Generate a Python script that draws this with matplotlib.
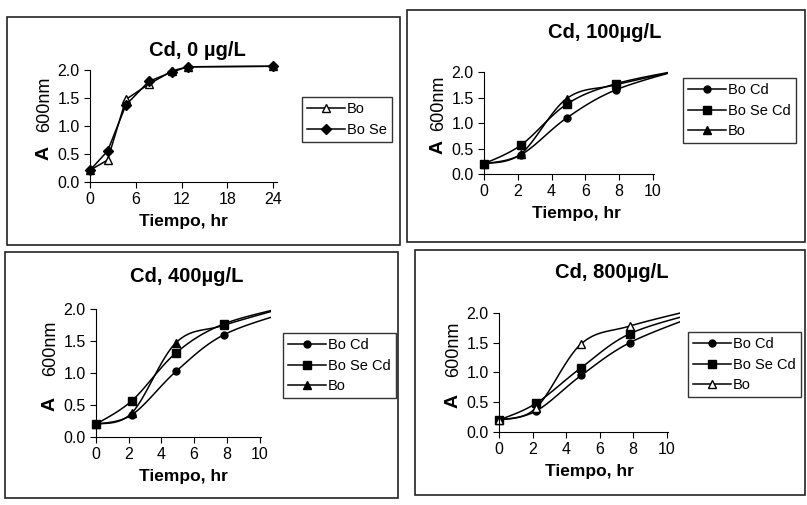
import numpy as np
import matplotlib
matplotlib.use("Agg")
import matplotlib.pyplot as plt
from matplotlib.patches import Rectangle
from matplotlib.ticker import FormatStrFormatter

plt.rcParams['font.family'] = ['Liberation Sans', 'DejaVu Sans']

# Cd 0 ug/L  (tiempo en hr)
t0 = [0, 2.3, 4.7, 7.7, 10.8, 12.8, 24]
bo_0 = [0.21, 0.39, 1.47, 1.74, 1.98, 2.05, 2.06]
bose_0 = [0.21, 0.55, 1.37, 1.79, 1.96, 2.05, 2.06]

# Cd 100 / 400 / 800 ug/L
t = [0, 2.2, 4.9, 7.8, 12]
bocd_100 = [0.2, 0.38, 1.1, 1.65, 2.08]
bosecd_100 = [0.2, 0.57, 1.37, 1.77, 2.06]
bo_100 = [0.2, 0.4, 1.48, 1.75, 2.06]

bocd_400 = [0.2, 0.35, 1.03, 1.6, 1.98]
bosecd_400 = [0.2, 0.57, 1.32, 1.77, 2.06]
bo_400 = [0.2, 0.38, 1.48, 1.75, 2.06]

bocd_800 = [0.2, 0.35, 0.95, 1.5, 1.98]
bosecd_800 = [0.2, 0.48, 1.08, 1.65, 2.02]
bo_800 = [0.2, 0.4, 1.48, 1.78, 2.08]

W, H = 807, 505
fig = plt.figure(figsize=(W / 100, H / 100), dpi=100)
fig.patch.set_facecolor('white')


def smooth(x, y, n=30):
    # suavizado tipo Excel (Catmull-Rom)
    p = np.column_stack([x, y]).astype(float)
    p = np.vstack([p[0], p, p[-1]])
    tt = np.linspace(0, 1, n)[:, None]
    segs = []
    for i in range(1, len(p) - 2):
        p0, p1, p2, p3 = p[i - 1], p[i], p[i + 1], p[i + 2]
        segs.append(0.5 * (2 * p1 + (-p0 + p2) * tt
                           + (2 * p0 - 5 * p1 + 4 * p2 - p3) * tt ** 2
                           + (-p0 + 3 * p1 - 3 * p2 + p3) * tt ** 3))
    c = np.vstack(segs)
    return c[:, 0], c[:, 1]


def box(l, t_, r, b):
    fig.patches.append(Rectangle((l / W, 1 - b / H), (r - l) / W, (b - t_) / H,
                                 transform=fig.transFigure, fill=False,
                                 ec='#222222', lw=1.2))


def make_axes(l, t_, r, b):
    return fig.add_axes([l / W, 1 - b / H, (r - l) / W, (b - t_) / H])


def style(ax, xmax, xticks, spine_x):
    ax.set_xlim(0, xmax)
    ax.set_ylim(0, 2.1)
    ax.spines['top'].set_visible(False)
    ax.spines['right'].set_visible(False)
    ax.spines['bottom'].set_bounds(0, spine_x)
    ax.spines['left'].set_bounds(0, 2.0)
    ax.set_xticks(xticks)
    ax.set_yticks([0, 0.5, 1.0, 1.5, 2.0])
    ax.yaxis.set_major_formatter(FormatStrFormatter('%.1f'))
    ax.tick_params(labelsize=11.5, length=4, direction='out')
    ax.set_xlabel('Tiempo, hr', fontsize=12.5, fontweight='bold', labelpad=5)
    ax.annotate('A', xy=(0, 0.25), xycoords='axes fraction', xytext=(-33, 0),
                textcoords='offset points', rotation=90, fontsize=14,
                fontweight='bold', ha='center', va='center')
    ax.annotate('600nm', xy=(0, 0.66), xycoords='axes fraction', xytext=(-33, 0),
                textcoords='offset points', rotation=90, fontsize=13,
                ha='center', va='center')


def legend(ax, l, t_):
    ax.legend(loc='upper left', bbox_to_anchor=(l / W, 1 - t_ / H),
              bbox_transform=fig.transFigure, fontsize=10.5,
              handlelength=2.6, frameon=True, fancybox=False,
              edgecolor='black', borderpad=0.35, labelspacing=0.45,
              handletextpad=0.15, borderaxespad=0)


# Panel 1: Cd, 0 ug/L
box(7, 17, 400, 245)
ax1 = make_axes(90, 64, 277, 182)
ax1.plot(t0, bo_0, color='black', lw=1.1, marker='^', ms=6, mfc='white',
         mec='black', label='Bo', clip_on=False)
ax1.plot(t0, bose_0, color='black', lw=1.1, marker='D', ms=5,
         label='Bo Se', clip_on=False)
style(ax1, 24.5, [0, 6, 12, 18, 24], 24.5)
legend(ax1, 302, 97)
fig.text(197 / W, 1 - 50 / H, 'Cd, 0 \u00b5g/L', ha='center', va='center',
         fontsize=14.5, fontweight='bold')

panels = [
    # (caja, ejes px, xmax, leyenda, titulo, pos titulo, series, triangulo abierto)
    ((407, 10, 805, 242), (484, 67, 668, 174), 10.9, (683, 78),
     'Cd, 100\u00b5g/L', (605, 32), (bocd_100, bosecd_100, bo_100), False),
    ((5, 252, 398, 498), (96, 303, 271, 437), 10.7, (283, 333),
     'Cd, 400\u00b5g/L', (187, 277), (bocd_400, bosecd_400, bo_400), False),
    ((415, 250, 805, 495), (499, 307, 680, 432), 10.8, (688, 332),
     'Cd, 800\u00b5g/L', (612, 273), (bocd_800, bosecd_800, bo_800), True),
]

for bx, apx, xmax, lpos, title, tpos, series, open_tri in panels:
    box(*bx)
    ax = make_axes(*apx)
    bocd, bosecd, bo = series
    specs = [('Bo Cd', bocd, 'o', 5, 'black'),
             ('Bo Se Cd', bosecd, 's', 5.5, 'black'),
             ('Bo', bo, '^', 6, 'white' if open_tri else 'black')]
    for name, vals, mk, ms, fc in specs:
        sx, sy = smooth(t, vals)
        ax.plot(sx, sy, color='black', lw=1.1)
        ax.plot(t[:-1], vals[:-1], ls='none', marker=mk, ms=ms, mfc=fc,
                mec='black', clip_on=False)
        ax.plot([], [], color='black', lw=1.1, marker=mk, ms=ms, mfc=fc,
                mec='black', label=name)
    style(ax, xmax, [0, 2, 4, 6, 8, 10], 10.1)
    legend(ax, *lpos)
    fig.text(tpos[0] / W, 1 - tpos[1] / H, title, ha='center', va='center',
             fontsize=14.5, fontweight='bold')

fig.savefig('out.png', dpi=100)
